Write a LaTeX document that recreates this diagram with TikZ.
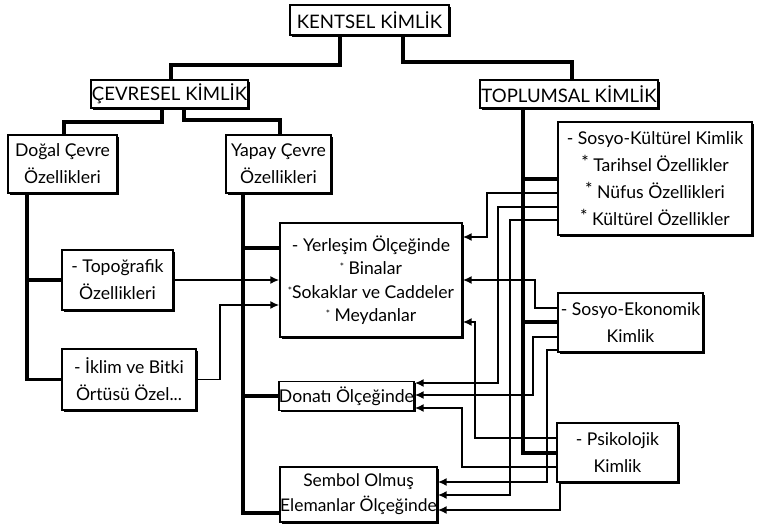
\documentclass[tikz,border=0pt]{standalone}
\usepackage{fontspec}
\setmainfont{Lato}
\usetikzlibrary{arrows.meta,shadows}
\begin{document}
\begin{tikzpicture}[x=1pt,y=-1pt,
  box/.style={draw=black,line width=1.4pt,fill=white,inner sep=0pt,align=center,
    font=\fontsize{17.6}{27}\selectfont,
    general shadow={fill=black,shadow xshift=1.8pt,shadow yshift=-1.8pt}},
  capbox/.style={box,font=\fontsize{18.6}{22}\selectfont},
  trunk/.style={line width=3.4pt},
  wire/.style={line width=1.7pt},
  arr/.style={wire,-{Latex[length=9pt,width=8pt]}}
]
\useasboundingbox (0,0) rectangle (761,526);
\fill[white] (0,0) rectangle (761,526);
% nodes
\node[capbox,minimum width=159pt,minimum height=30pt] (ken) at (369.5,20) {KENTSEL KİMLİK};
\node[capbox,minimum width=157pt,minimum height=28pt] (cev) at (169.5,94) {ÇEVRESEL KİMLİK};
\node[capbox,minimum width=178pt,minimum height=28pt] (top) at (569,94) {TOPLUMSAL KİMLİK};
\node[box,minimum width=109pt,minimum height=58pt] (dog) at (62.5,164) {Doğal Çevre\\Özellikleri};
\node[box,minimum width=105pt,minimum height=58pt] (yap) at (278.5,164) {Yapay Çevre\\Özellikleri};
\node[box,minimum width=111pt,minimum height=60pt] (topo) at (117.5,280) {- Topoğrafik\\Özellikleri};
\node[box,minimum width=134pt,minimum height=61pt] (ikl) at (129,379.5) {- İklim ve Bitki\\Örtüsü Özel...};
\node[box,minimum width=182pt,minimum height=114pt,font=\fontsize{17.6}{23.5}\selectfont] (yer) at (371,280)
  {- Yerleşim Ölçeğinde\\{\fontsize{10}{10}\selectfont\raisebox{4pt}{*}} Binalar\\{\fontsize{10}{10}\selectfont\raisebox{4pt}{*}}Sokaklar ve Caddeler\\{\fontsize{10}{10}\selectfont\raisebox{4pt}{*}} Meydanlar};
\node[box,minimum width=133pt,minimum height=29pt] (don) at (346.5,396) {Donatı Ölçeğinde};
\node[box,minimum width=157pt,minimum height=55pt,font=\fontsize{17.4}{25}\selectfont] (sem) at (358.5,494.5) {Sembol Olmuş\\Elemanlar Ölçeğinde};
\node[box,minimum width=194pt,minimum height=113pt] (sk) at (655,178.5)
  {- Sosyo-Kültürel Kimlik\\\raisebox{3pt}{*} Tarihsel Özellikler\\\raisebox{3pt}{*} Nüfus Özellikleri\\\raisebox{3pt}{*} Kültürel Özellikler};
\node[box,minimum width=145pt,minimum height=59pt] (sek) at (630.5,322.5) {- Sosyo-Ekonomik\\Kimlik};
\node[box,minimum width=121pt,minimum height=59pt] (psi) at (617.5,452.5) {- Psikolojik\\Kimlik};
% hierarchy
\draw[trunk] (ken.south -| 340,0) |- (171,65) -- (cev.north -| 171,0);
\draw[trunk] (ken.south -| 403,0) |- (572,62) -- (top.north -| 572,0);
\draw[trunk] (cev.south -| 162,0) |- (64,122) -- (dog.north -| 64,0);
\draw[trunk] (cev.south -| 184,0) |- (280,120) -- (yap.north -| 280,0);
\draw[trunk] (dog.south -| 27,0) |- (ikl.west);
\draw[trunk] (dog.south -| 27,0) |- (topo.west);
\draw[trunk] (yap.south -| 243,0) |- (sem.west |- 0,513);
\draw[trunk] (yap.south -| 243,0) |- (yer.west |- 0,248);
\draw[trunk] (yap.south -| 243,0) |- (don.west);
\draw[trunk] (top.south -| 523,0) |- (psi.west |- 0,453);
\draw[trunk] (top.south -| 523,0) |- (sk.west |- 0,179);
\draw[trunk] (top.south -| 523,0) |- (sek.west |- 0,322);
% left wires
\draw[arr] (topo.east) -- (yer.west |- topo.east);
\draw[arr] (ikl.east) -| (220,305) -- (yer.west |- 0,305);
% right wires
\draw[arr] (sk.west |- 0,193) -| (487,237) -- (yer.east |- 0,237);
\draw[arr] (sk.west |- 0,207) -| (498,383) -- (don.east |- 0,383);
\draw[arr] (sk.west |- 0,220) -| (510,495) -- (sem.east |- 0,495);
\draw[arr] (sek.west |- 0,308) -| (535,280) -- (yer.east |- 0,280);
\draw[arr] (sek.west |- 0,337) -| (533,395) -- (don.east |- 0,395);
\draw[arr] (sek.west |- 0,350) -| (547,482) -- (sem.east |- 0,482);
\draw[arr] (psi.west |- 0,438) -| (475,322) -- (yer.east |- 0,322);
\draw[arr] (psi.west |- 0,467) -| (462,408) -- (don.east |- 0,408);
\draw[arr] (psi.south -| 560,0) |- (sem.east |- 0,510);
\end{tikzpicture}
\end{document}
